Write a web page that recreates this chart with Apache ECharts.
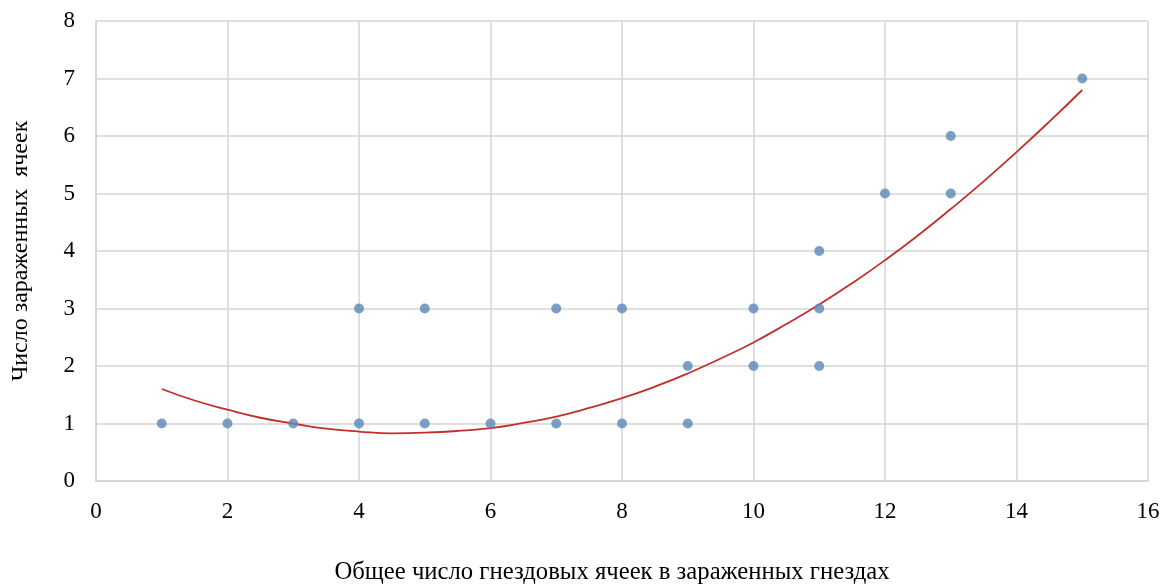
<!DOCTYPE html>
<html>
<head>
<meta charset="utf-8">
<script src="https://cdn.jsdelivr.net/npm/echarts@6/dist/echarts.min.js"></script>
<style>
  html, body { margin: 0; padding: 0; background: #fff; }
  #chart { width: 1168px; height: 585px; }
</style>
</head>
<body>
<div id="chart"></div>
<script>
// observed points: total cells vs infected cells
const pointX = [1, 2, 3, 4, 4, 5, 5, 6, 7, 7, 8, 8, 9, 9, 10, 10, 11, 11, 11, 12, 13, 13, 15]
const pointY = [1, 1, 1, 1, 3, 1, 3, 1, 1, 3, 1, 3, 1, 2, 2, 3, 2, 3, 4, 5, 5, 6, 7]

// trend curve (every half step)
const trendX = [1, 1.5, 2, 2.5, 3, 3.5, 4, 4.5, 5, 5.5, 6, 6.5, 7, 7.5, 8, 8.5, 9, 9.5, 10,
  10.5, 11, 11.5, 12, 12.5, 13, 13.5, 14, 14.5, 15]
const trendY = [1.6, 1.4, 1.24, 1.1, 1.0, 0.91, 0.86, 0.83, 0.84, 0.87, 0.92, 1.01, 1.12, 1.27, 1.44, 1.64, 1.87, 2.13, 2.41,
  2.73, 3.07, 3.44, 3.84, 4.27, 4.73, 5.21, 5.72, 6.25, 6.8]

const xTitle = 'Общее число гнездовых ячеек в зараженных гнездах'
const yTitle = 'Число зараженных  ячеек'

const font = 'Liberation Serif'
const gridColor = '#d4d4d4'

const chart = echarts.init(document.getElementById('chart'))

chart.setOption({
  animation: false,
  grid: { left: 96, right: 20, top: 21, bottom: 104, outerBoundsMode: 'none' },
  xAxis: {
    type: 'value',
    min: 0, max: 16, interval: 2,
    name: xTitle,
    nameLocation: 'middle',
    nameGap: 79,
    nameTextStyle: { fontFamily: font, fontSize: 24.7, color: '#000', padding: [0, 20, 0, 0] },
    axisLine: { show: true, lineStyle: { color: gridColor, width: 1.5 } },
    axisTick: { show: false },
    axisLabel: { fontFamily: font, fontSize: 23, color: '#000', margin: 19 },
    splitLine: { show: true, lineStyle: { color: gridColor, width: 1.5 } }
  },
  yAxis: {
    type: 'value',
    min: 0, max: 8, interval: 1,
    name: yTitle,
    nameLocation: 'middle',
    nameGap: 63,
    nameTextStyle: { fontFamily: font, fontSize: 24, color: '#000' },
    axisLine: { show: true, lineStyle: { color: gridColor, width: 1.5 } },
    axisTick: { show: false },
    axisLabel: { fontFamily: font, fontSize: 23, color: '#000', margin: 21 },
    splitLine: { show: true, lineStyle: { color: gridColor, width: 1.5 } }
  },
  series: [
    {
      type: 'line',
      data: trendX.map((x, i) => [x, trendY[i]]),
      smooth: true,
      showSymbol: false,
      lineStyle: { color: '#c0302b', width: 1.8 },
      z: 2
    },
    {
      type: 'scatter',
      data: pointX.map((x, i) => [x, pointY[i]]),
      symbolSize: 10,
      itemStyle: { color: '#5b87b8' },
      z: 3
    }
  ]
})
</script>
</body>
</html>
